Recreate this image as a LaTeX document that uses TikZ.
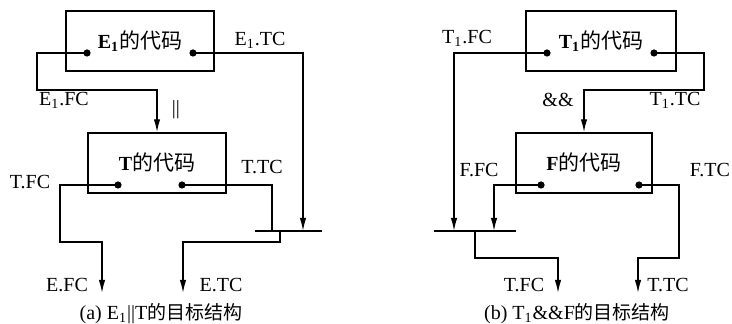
\documentclass[tikz,border=0pt]{standalone}
\usepackage{fontspec}
\setmainfont{Liberation Serif}
\newfontfamily\cjk[Scale=1.05]{Noto Sans CJK SC}
\newfontfamily\cjkcap[Scale=0.95]{Noto Sans CJK SC}
\usetikzlibrary{arrows.meta}

\begin{document}
\begin{tikzpicture}[x=0.5pt, y=-0.5pt, >={Latex[length=6.5pt,width=3.2pt]}, line width=0.7pt,
    font=\fontsize{10}{12}\selectfont,
    code/.style={draw, minimum height=30pt, inner sep=0pt},
    dot/.style={circle, fill, inner sep=0pt, minimum size=3.6pt}]
    \useasboundingbox (0,0) rectangle (732,324);

    % (a) 代码块
    \node[code, minimum width=74pt] (e1) at (140,41) {\textbf{E\textsubscript{1}}{\cjk 的代码}};
    \node[code, minimum width=69pt] (t) at (157,163) {\textbf{T}{\cjk 的代码}};
    \node[dot] (e1f) at (87,53) {};
    \node[dot] (e1t) at (193,53) {};
    \node[dot] (tf) at (118,185) {};
    \node[dot] (tt) at (182,185) {};
    \coordinate (barA1) at (255,231);
    \coordinate (barA2) at (322,231);
    \coordinate (efc) at (102,293);
    \coordinate (etc) at (183,293);

    % (a) 连接
    \draw[->] (e1f.center) -| (37,90) -| (t.north);
    \draw[->] (e1t.center) -| (barA2 -| 303,0);
    \draw (tt.center) -| (barA1 -| 272,0);
    \draw[->] (tf.center) -| (60,242) -| (efc);
    \draw[->] (barA1 -| 280,0) |- (230,242) -| (etc);
    \draw (barA1) -- (barA2);

    % (a) 标注
    \node at (260,40) {E\textsubscript{1}.TC};
    \node at (64,100) {E\textsubscript{1}.FC};
    \node at (176,110) {\textbar\textbar};
    \node at (30,182) {T.FC};
    \node at (262,167) {T.TC};
    \node at (67,285) {E.FC};
    \node at (221,285) {E.TC};
    \node at (161,314) {(a) E\textsubscript{1}\textbar\textbar T{\cjkcap 的目标结构}};

    % (b) 代码块
    \node[code, minimum width=75pt] (t1) at (601,41) {\textbf{T\textsubscript{1}}{\cjk 的代码}};
    \node[code, minimum width=68pt] (f) at (584,163) {\textbf{F}{\cjk 的代码}};
    \node[dot] (t1f) at (547,53) {};
    \node[dot] (t1t) at (654,53) {};
    \node[dot] (ff) at (541,185) {};
    \node[dot] (ft) at (639,185) {};
    \coordinate (barB1) at (434,231);
    \coordinate (barB2) at (516,231);
    \coordinate (tfc) at (558,293);
    \coordinate (ttc) at (638,293);

    % (b) 连接
    \draw[->] (t1f.center) -| (barB1 -| 454,0);
    \draw[->] (t1t.center) -| (704,90) -| (f.north);
    \draw[->] (ff.center) -| (barB1 -| 494,0);
    \draw[->] (ft.center) -| (679,258) -| (ttc);
    \draw[->] (barB1 -| 475,0) |- (520,258) -| (tfc);
    \draw (barB1) -- (barB2);

    % (b) 标注
    \node at (467,38) {T\textsubscript{1}.FC};
    \node at (675,100) {T\textsubscript{1}.TC};
    \node at (558,100) {\&\&};
    \node at (479,170) {F.FC};
    \node at (710,170) {F.TC};
    \node at (524,285) {T.FC};
    \node at (668,285) {T.TC};
    \node at (577,314) {(b) T\textsubscript{1}\&\&F{\cjkcap 的目标结构}};
\end{tikzpicture}
\end{document}
